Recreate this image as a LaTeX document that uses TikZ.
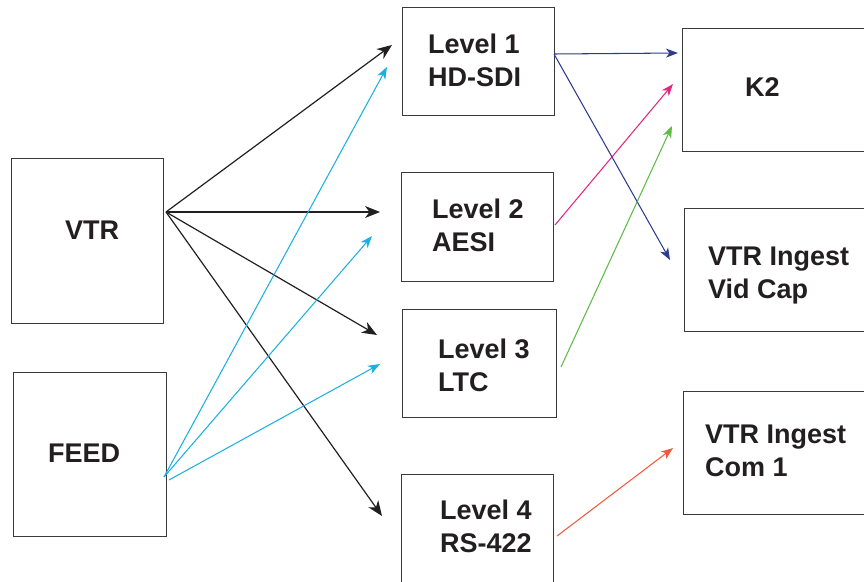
\documentclass[tikz,border=0pt]{standalone}
\usepackage{fontspec}
\setmainfont{Liberation Sans}
\usetikzlibrary{arrows.meta}

\definecolor{inkdark}{HTML}{231F20}
\definecolor{framegray}{HTML}{3A3A3A}
\definecolor{feedcyan}{HTML}{1CB0E0}
\definecolor{sdiblue}{HTML}{2E3A92}
\definecolor{aesipink}{HTML}{E2287A}
\definecolor{ltcgreen}{HTML}{5DBB46}
\definecolor{rsred}{HTML}{F05A3C}

\tikzset{
  box/.style={draw=framegray, line width=1.3pt, fill=white, inner sep=0pt, anchor=north west},
  lbl/.style={inner sep=0pt, anchor=base west, text=inkdark,
    font=\bfseries\fontsize{27}{33}\selectfont},
  sigline/.style={line width=1.2pt},
  colline/.style={line width=1.05pt},
  bigtip/.style={-{Stealth[length=15pt, width=12pt, inset=4.5pt]}},
  smalltip/.style={-{Stealth[length=12pt, width=9pt, inset=3.5pt]}},
}

\newcommand{\twolines}[2]{\vtop{\hbox{#1}\hbox{#2}}}

\begin{document}
\begin{tikzpicture}[x=1pt, y=-1pt]
\useasboundingbox (0,0) rectangle (864,581);

% sources
\node[box, minimum width=152pt, minimum height=165pt] (vtr)  at (11,158) {};
\node[box, minimum width=153pt, minimum height=164pt] (feed) at (13,372) {};
\node[lbl] (vtrtxt)  at (65,239) {VTR};
\node[lbl] (feedtxt) at (48,462) {FEED};

% router levels
\node[box, minimum width=152pt, minimum height=108pt] (lv1) at (402,7)   {};
\node[box, minimum width=152pt, minimum height=109pt] (lv2) at (401,172) {};
\node[box, minimum width=154pt, minimum height=108pt] (lv3) at (402,309) {};
\node[box, minimum width=152pt, minimum height=120pt] (lv4) at (401,474) {};
\node[lbl] (lv1txt) at (428,53)  {\twolines{Level 1}{HD-SDI}};
\node[lbl] (lv2txt) at (432,218) {\twolines{Level 2}{AESI}};
\node[lbl] (lv3txt) at (438,358) {\twolines{Level 3}{LTC}};
\node[lbl] (lv4txt) at (440,519) {\twolines{Level 4}{RS-422}};

% destinations
\node[box, minimum width=200pt, minimum height=123pt] (k2)     at (682,28)  {};
\node[box, minimum width=200pt, minimum height=123pt] (vidcap) at (684,208) {};
\node[box, minimum width=200pt, minimum height=123pt] (com1)   at (683,391) {};
\node[lbl] (k2txt)     at (745,96)  {K2};
\node[lbl] (vidcaptxt) at (708,265) {\twolines{VTR Ingest}{Vid Cap}};
\node[lbl] (com1txt)   at (705,443) {\twolines{VTR Ingest}{Com 1}};

% connector end points
\coordinate (vtrout)  at (166,212);
\coordinate (feedoutA) at (164,477);
\coordinate (feedoutB) at (169,480);
\coordinate (lv1in)  at (392,45);
\coordinate (lv1inF) at (387,67);
\coordinate (lv2in)  at (380,212);
\coordinate (lv2inF) at (372,236);
\coordinate (lv3in)  at (377,335);
\coordinate (lv3inF) at (380,364);
\coordinate (lv4in)  at (382,516);
\coordinate (lv1out) at (554,54);
\coordinate (lv2out) at (555,225);
\coordinate (lv3out) at (561,367);
\coordinate (lv4out) at (557,536);
\coordinate (k2inA)  at (678,53);
\coordinate (k2inB)  at (673,84);
\coordinate (k2inC)  at (672,126);
\coordinate (vidcapin) at (670,260);
\coordinate (com1in) at (673,448);

% VTR to every level
\draw[sigline, inkdark, bigtip] (vtrout) -- (lv1in);
\draw[sigline, inkdark, bigtip] (vtrout) -- (lv2in);
\draw[sigline, inkdark, bigtip] (vtrout) -- (lv3in);
\draw[sigline, inkdark, bigtip] (vtrout) -- (lv4in);

% FEED to levels 1-3
\draw[colline, feedcyan, smalltip] (feedoutA) -- (lv1inF);
\draw[colline, feedcyan, smalltip] (feedoutA) -- (lv2inF);
\draw[colline, feedcyan, smalltip] (feedoutB) -- (lv3inF);

% levels to destinations
\draw[colline, sdiblue, smalltip]  (lv1out) -- (k2inA);
\draw[colline, sdiblue, smalltip]  (lv1out) -- (vidcapin);
\draw[colline, aesipink, smalltip] (lv2out) -- (k2inB);
\draw[colline, ltcgreen, smalltip] (lv3out) -- (k2inC);
\draw[colline, rsred, smalltip]    (lv4out) -- (com1in);
\end{tikzpicture}
\end{document}
